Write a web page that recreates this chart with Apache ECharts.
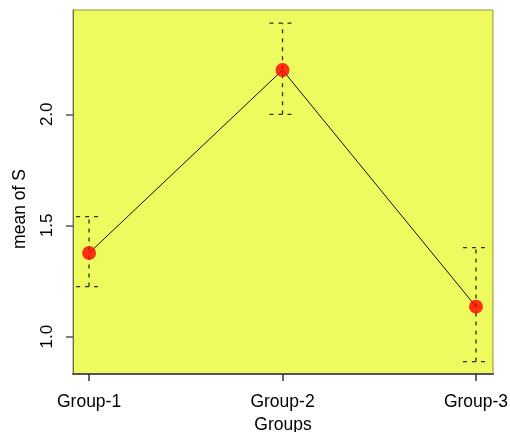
<!DOCTYPE html>
<html>
<head>
<meta charset="utf-8">
<script src="https://cdn.jsdelivr.net/npm/echarts@6/dist/echarts.min.js"></script>
<style>html,body{margin:0;padding:0;background:#fff}#c{width:510px;height:432px}</style>
</head>
<body>
<div id="c"></div>
<script>
const groups = ['Group-1', 'Group-2', 'Group-3'];
const groupPos = [1, 2, 3];
const means = [1.376, 2.199, 1.135];
const lower = [1.225, 2.0, 0.888];
const upper = [1.54, 2.41, 1.40];
const yTicks = [1.0, 1.5, 2.0];

const font = '"Liberation Sans", Arial, Helvetica, sans-serif';
const chart = echarts.init(document.getElementById('c'), null, {renderer: 'canvas'});

const lineData = groupPos.map((x, i) => [x, means[i]]);
const errData = groupPos.map((x, i) => [x, lower[i], upper[i]]);

chart.setOption({
  animation: false,
  backgroundColor: '#ffffff',
  grid: {left: 73, right: 17, top: 10, bottom: 58, show: true, containLabel: false, outerBoundsMode: 'none',
         backgroundColor: '#EEFB5E', borderColor: '#8c9640', borderWidth: 1},
  xAxis: {
    type: 'value', min: 0.917, max: 3.088,
    splitLine: {show: false},
    axisLine: {show: true, lineStyle: {color: '#555', width: 2}},
    axisTick: {show: true, length: 7, lineStyle: {color: '#333', width: 1.5}, customValues: groupPos},
    axisLabel: {customValues: groupPos, formatter: v => groups[Math.round(v) - 1],
                color: '#000', fontSize: 17.5, fontFamily: font, margin: 19},
    name: 'Groups', nameLocation: 'middle', nameGap: 36,
    nameTextStyle: {color: '#000', fontSize: 17.5, fontFamily: font}
  },
  yAxis: {
    type: 'value', min: 0.832, max: 2.469,
    splitLine: {show: false},
    axisLine: {show: true, lineStyle: {color: '#666', width: 1}},
    axisTick: {show: true, length: 7, lineStyle: {color: '#555', width: 1.5}, customValues: yTicks},
    axisLabel: {customValues: yTicks, formatter: v => v.toFixed(1), rotate: 90,
                color: '#000', fontSize: 17, fontFamily: font, margin: 26, verticalAlign: 'middle', align: 'center'}
  },
  graphic: [{
    type: 'text', rotation: Math.PI / 2, x: 20, y: 209,
    style: {text: 'mean of S', fill: '#000', font: '17.5px ' + font, align: 'center', verticalAlign: 'middle'}
  }],
  series: [
    {
      type: 'custom',
      data: errData,
      z: 3,
      renderItem: function (params, api) {
        const x = api.value(0);
        const lo = api.coord([x, api.value(1)]);
        const hi = api.coord([x, api.value(2)]);
        const w = 13;
        const st = {stroke: '#2b3310', lineWidth: 1.3, lineDash: [4, 5]};
        return {type: 'group', children: [
          {type: 'line', shape: {x1: lo[0], y1: lo[1], x2: hi[0], y2: hi[1]}, style: st},
          {type: 'line', shape: {x1: lo[0] - w, y1: lo[1], x2: lo[0] + w, y2: lo[1]}, style: st},
          {type: 'line', shape: {x1: hi[0] - w, y1: hi[1], x2: hi[0] + w, y2: hi[1]}, style: st}
        ]};
      }
    },
    {
      type: 'line', data: lineData, symbol: 'none', z: 4,
      lineStyle: {color: '#111', width: 1}
    },
    {
      type: 'scatter', data: lineData, symbol: 'circle', symbolSize: 14, z: 5,
      itemStyle: {color: '#ff0000'}
    }
  ]
});
</script>
</body>
</html>
